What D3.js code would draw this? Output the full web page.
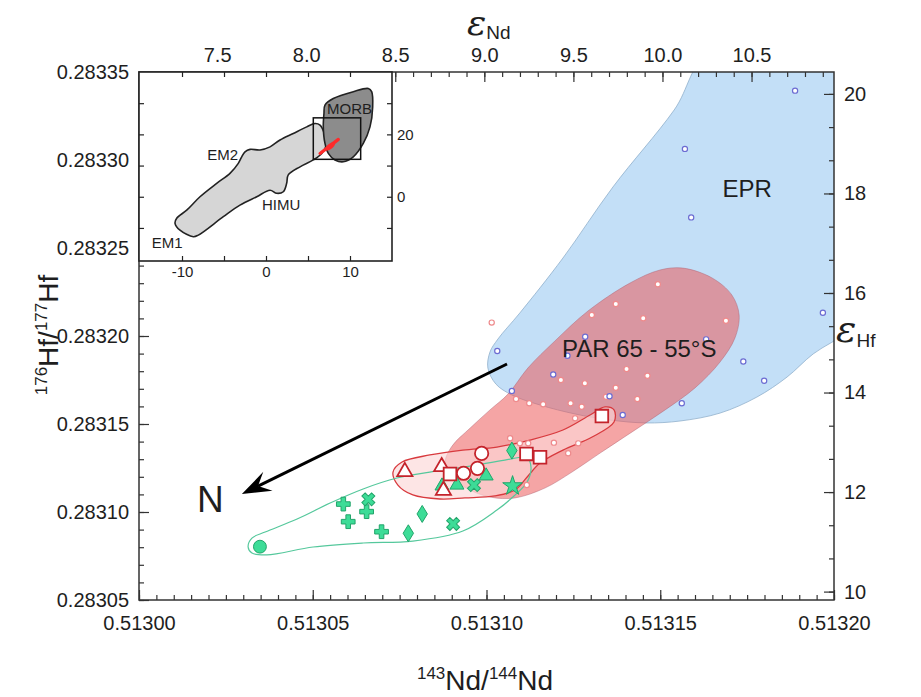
<!DOCTYPE html>
<html><head><meta charset="utf-8">
<script src="https://cdn.jsdelivr.net/npm/d3@7"></script>
<style>
body{margin:0;background:#fff}
svg{display:block}
text{font-family:"Liberation Sans",Arial,Helvetica,sans-serif;fill:#1e1e1e}
</style>
</head><body>
<svg id="c" width="921" height="697"></svg>
<script>
// ---------- data ----------
const xTicks = [0.51300, 0.51305, 0.51310, 0.51315, 0.51320];
const yTicks = [0.28305, 0.28310, 0.28315, 0.28320, 0.28325, 0.28330, 0.28335];
const eNdTicks = [7.5, 8.0, 8.5, 9.0, 9.5, 10.0, 10.5];
const eHfTicks = [10, 12, 14, 16, 18, 20];
const insetXTicks = [-10, 0, 10];
const insetYTicks = [0, 20];

// fields [143Nd/144Nd, 176Hf/177Hf]
const eprRegion = [[0.5131649,0.2833625],[0.5132104,0.2833653],[0.5132118,0.2832205],[0.5132046,0.2832034],[0.5131940,0.2831898],[0.5131865,0.2831767],[0.5131778,0.2831653],[0.5131672,0.2831562],[0.5131557,0.2831517],[0.5131459,0.2831506],[0.5131355,0.2831523],[0.5131255,0.2831557],[0.5131154,0.2831608],[0.5131073,0.2831665],[0.5131027,0.2831727],[0.5131004,0.2831818],[0.5131010,0.2831909],[0.5131033,0.2831983],[0.5131096,0.2832131],[0.5131220,0.2832443],[0.5131364,0.2832847],[0.5131540,0.2833284]];
const parRegion = [[0.5131565,0.2832386],[0.5131649,0.2832330],[0.5131706,0.2832233],[0.5131727,0.2832119],[0.5131715,0.2831989],[0.5131672,0.2831852],[0.5131600,0.2831705],[0.5131514,0.2831580],[0.5131419,0.2831455],[0.5131327,0.2831335],[0.5131246,0.2831227],[0.5131168,0.2831136],[0.5131082,0.2831080],[0.5131010,0.2831085],[0.5130941,0.2831136],[0.5130895,0.2831210],[0.5130881,0.2831284],[0.5130901,0.2831375],[0.5130953,0.2831477],[0.5131010,0.2831580],[0.5131062,0.2831670],[0.5131119,0.2831818],[0.5131197,0.2831972],[0.5131292,0.2832142],[0.5131413,0.2832301],[0.5131499,0.2832375]];
const redField = [[0.5130731,0.2831227],[0.5130757,0.2831284],[0.5130837,0.2831324],[0.5130932,0.2831352],[0.5131030,0.2831369],[0.5131125,0.2831409],[0.5131220,0.2831466],[0.5131298,0.2831551],[0.5131341,0.2831597],[0.5131367,0.2831580],[0.5131367,0.2831511],[0.5131304,0.2831426],[0.5131220,0.2831352],[0.5131154,0.2831278],[0.5131117,0.2831199],[0.5131082,0.2831125],[0.5131024,0.2831091],[0.5130938,0.2831080],[0.5130866,0.2831074],[0.5130788,0.2831097],[0.5130745,0.2831153]];
const greenField = [[0.5130314,0.2830801],[0.5130325,0.2830852],[0.5130363,0.2830886],[0.5130455,0.2830960],[0.5130550,0.2831051],[0.5130645,0.2831131],[0.5130742,0.2831193],[0.5130837,0.2831227],[0.5130953,0.2831261],[0.5131053,0.2831295],[0.5131117,0.2831307],[0.5131128,0.2831256],[0.5131117,0.2831170],[0.5131079,0.2831091],[0.5131030,0.2831011],[0.5130932,0.2830892],[0.5130788,0.2830835],[0.5130645,0.2830824],[0.5130501,0.2830801],[0.5130368,0.2830756],[0.5130325,0.2830767]];

// small symbols
const eprSamples = [[0.5131888,0.2833394],[0.5131571,0.2833063],[0.5131589,0.2832674],[0.5131968,0.2832132],[0.5131031,0.2831915],[0.5131284,0.2831996],[0.5131233,0.2831888],[0.5131192,0.2831781],[0.5131073,0.2831688],[0.5131632,0.2831981],[0.5131739,0.2831855],[0.5131799,0.2831746],[0.5131562,0.2831618],[0.5131354,0.2831658],[0.5131392,0.2831551]];
const parSamples = [[0.5131015,0.2832076],[0.5131493,0.2832294],[0.5131372,0.2832182],[0.5131303,0.2832119],[0.5131451,0.2832101],[0.5131689,0.2832087],[0.5131403,0.2831812],[0.5131463,0.2831774],[0.5131214,0.2831750],[0.5131283,0.2831731],[0.5131372,0.2831706],[0.5131434,0.2831642],[0.5131085,0.2831642],[0.5131123,0.2831618],[0.5131163,0.2831612],[0.5131242,0.2831618],[0.5131274,0.2831598],[0.5131344,0.2831655],[0.5131255,0.2831532],[0.5131068,0.2831419],[0.5131096,0.2831390],[0.5131120,0.2831390],[0.5131194,0.2831394],[0.5131264,0.2831390],[0.5131235,0.2831334],[0.5131116,0.2831153]];

// open red symbols
const redTriangles = [[0.5130765,0.2831229],[0.5130871,0.2831257],[0.5130876,0.2831122]];
const redSquares = [[0.5130895,0.2831216],[0.5131115,0.2831330],[0.5131154,0.2831311],[0.5131332,0.2831545]];
const redCircles = [[0.5130934,0.2831220],[0.5130986,0.2831333],[0.5130974,0.2831248]];

// filled green symbols
const greenCircles = [[0.5130348,0.2830803]];
const greenPlus = [[0.5130588,0.2831045],[0.5130602,0.2830945],[0.5130655,0.2831002],[0.5130698,0.2830888]];
const greenX = [[0.5130660,0.2831072],[0.5130904,0.2830932],[0.5130964,0.2831153]];
const greenDiamonds = [[0.5130815,0.2830989],[0.5130775,0.2830879],[0.5131073,0.2831349]];
const greenTriangles = [[0.5130872,0.2831148],[0.5130915,0.2831153],[0.5130999,0.2831205]];
const greenStars = [[0.5131075,0.2831148]];

const trendArrow = [[0.5131059,0.2831841],[0.5130296,0.2831102]];

const fieldLabels = [
  {text:"EPR", pos:[0.5131750,0.2832790], anchor:"middle", size:24},
  {text:"PAR 65 - 55°S", pos:[0.5131217,0.2831881], anchor:"start", size:24},
  {text:"N", pos:[0.5130167,0.2831000], anchor:"start", size:37}
];

// inset [epsilon Nd, epsilon Hf]
const mantleArray = [[-10.83,-8.5],[-10.24,-10.7],[-8.65,-12.8],[-8.06,-12.3],[-5.08,-6.4],[-3.1,-2.7],[-1.1,0],[0.48,2.1],[1.27,1.1],[2.06,1.6],[2.46,4.3],[2.65,7.0],[4.05,9.6],[5.63,11.8],[6.63,13.9],[7.23,17.1],[7.02,19.8],[6.43,23.0],[5.83,23.5],[4.85,22.4],[3.25,20.3],[1.67,18.2],[0.48,16.0],[-0.71,15.0],[-1.9,15.2],[-2.5,14.4],[-2.89,12.8],[-3.3,10.7],[-4.29,7.5],[-5.87,4.3],[-7.86,0],[-9.44,-4.3],[-10.63,-6.9]];
const morbField = [[7.02,29.4],[8.01,31.5],[10.39,33.7],[12.18,34.7],[12.58,33.7],[12.7,28.8],[12.38,22.4],[11.58,17.1],[10.39,12.8],[9.2,11.2],[8.21,11.8],[7.42,13.9],[7.02,17.1],[6.82,22.4],[6.9,26.7]];
const insetBox = [[5.63,12.0],[11.27,25.3]];
const insetRed = [[6.43,13.9],[8.61,18.4]];
const insetLabels = [
  {text:"MORB", pos:[7.26,26.5]},
  {text:"EM2", pos:[-7.0,11.8]},
  {text:"HIMU", pos:[-0.48,-4.3]},
  {text:"EM1", pos:[-13.6,-16.4]}
];

// ---------- scales ----------
const svg = d3.select("#c");
const L = 139, R = 834, T = 72, B = 600;
const x = d3.scaleLinear().domain([0.51300, 0.51320]).range([L, R]);
const y = d3.scaleLinear().domain([0.28305, 0.28335]).range([B, T]);
const CHUR_ND = 0.512638, CHUR_HF = 0.282772;
const eNd = v => (v / CHUR_ND - 1) * 1e4;
const eHf = v => (v / CHUR_HF - 1) * 1e4;
const xe = d3.scaleLinear().domain(x.domain().map(eNd)).range(x.range());
const ye = d3.scaleLinear().domain(y.domain().map(eHf)).range(y.range());

const defs = svg.append("defs");
defs.append("clipPath").attr("id","plot").append("rect")
  .attr("x",L).attr("y",T).attr("width",R-L).attr("height",B-T);

const blob = d3.line().x(d=>x(d[0])).y(d=>y(d[1])).curve(d3.curveCatmullRomClosed.alpha(0.5));
const g = svg.append("g").attr("clip-path","url(#plot)");

g.append("path").attr("d", blob(eprRegion))
  .attr("fill","#c3dff7").attr("stroke","#90b0cc").attr("stroke-width",0.8);
g.append("path").attr("d", blob(parRegion))
  .attr("fill","rgb(236,88,88)").attr("fill-opacity",0.54)
  .attr("stroke","#a85a6a").attr("stroke-opacity",0.6).attr("stroke-width",0.7);
g.append("path").attr("d", blob(redField))
  .attr("fill","rgb(252,215,215)").attr("fill-opacity",0.65)
  .attr("stroke","#d83a3e").attr("stroke-width",1.3);
g.append("path").attr("d", blob(greenField))
  .attr("fill","none").attr("stroke","#55c89c").attr("stroke-width",1.2);

// small sample circles
g.selectAll(".ps").data(parSamples).join("circle")
  .attr("cx",d=>x(d[0])).attr("cy",d=>y(d[1])).attr("r",2.6)
  .attr("fill","#fff").attr("stroke","#ee8a8c").attr("stroke-width",1.2);
g.selectAll(".es").data(eprSamples).join("circle")
  .attr("cx",d=>x(d[0])).attr("cy",d=>y(d[1])).attr("r",2.6)
  .attr("fill","#fff").attr("stroke","#6c6cd2").attr("stroke-width",1.2);

// arrow
{
  const p0 = [x(trendArrow[0][0]), y(trendArrow[0][1])];
  const p1 = [x(trendArrow[1][0]), y(trendArrow[1][1])];
  const dx = p0[0]-p1[0], dy = p0[1]-p1[1], len = Math.hypot(dx,dy);
  const ux = dx/len, uy = dy/len, nx = -uy, ny = ux;
  const pt = (a,b) => [p1[0]+ux*a+nx*b, p1[1]+uy*a+ny*b];
  const n = pt(18,0);
  g.append("line").attr("x1",p0[0]).attr("y1",p0[1]).attr("x2",n[0]).attr("y2",n[1])
    .attr("stroke","#000").attr("stroke-width",3);
  g.append("path").attr("d", d3.line()([p1, pt(29,-10.5), n, pt(29,10.5)]) + "Z").attr("fill","#000");
}

// markers
const sym = (type,size) => d3.symbol().type(type).size(size)();
const greenFill = "#3ddc97", greenStroke = "#22a46a";
function drawSym(data, path, fill, stroke, sw, rot) {
  g.append("g").selectAll("path").data(data).join("path")
    .attr("d", path)
    .attr("transform", d => `translate(${x(d[0])},${y(d[1])})` + (rot ? ` rotate(${rot})` : ""))
    .attr("fill", fill).attr("stroke", stroke).attr("stroke-width", sw);
}
const diamondPath = "M0,-8.5L5.2,0L0,8.5L-5.2,0Z";
drawSym(greenCircles, sym(d3.symbolCircle,130), greenFill, greenStroke, 1);
drawSym(greenPlus, sym(d3.symbolCross,105), greenFill, greenStroke, 1);
drawSym(greenX, sym(d3.symbolCross,105), greenFill, greenStroke, 1, 45);
drawSym(greenDiamonds, diamondPath, greenFill, greenStroke, 1);
drawSym(greenTriangles, sym(d3.symbolTriangle,85), greenFill, greenStroke, 1);
drawSym(greenStars, sym(d3.symbolStar,120), greenFill, greenStroke, 1);
drawSym(redTriangles, sym(d3.symbolTriangle,100), "#fff", "#c4232b", 1.8);
drawSym(redSquares, sym(d3.symbolSquare,160), "#fff", "#c4232b", 1.8);
drawSym(redCircles, sym(d3.symbolCircle,140), "#fff", "#c4232b", 1.8);

// field labels
g.selectAll(".fl").data(fieldLabels).join("text")
  .attr("x",d=>x(d.pos[0])).attr("y",d=>y(d.pos[1]))
  .attr("text-anchor",d=>d.anchor).attr("font-size",d=>d.size)
  .text(d=>d.text);

// ---------- axes ----------
function axisG(gen, vals, size, fmt, tr, pad, fs) {
  const a = svg.append("g").attr("transform", tr)
    .call(gen.tickValues(vals).tickSize(size).tickPadding(pad).tickFormat(fmt));
  a.select(".domain").remove();
  a.selectAll("line").attr("stroke","#333").attr("stroke-width",1.2);
  a.selectAll("text").attr("font-size", fs).attr("fill","#1e1e1e")
    .attr("font-family","Liberation Sans, Arial, sans-serif");
  return a;
}
const xMinor = d3.range(0,41).map(i => 0.51300 + i*0.000005);
const yMinor = d3.range(0,31).map(i => 0.28305 + i*0.00001);
const eNdMinor = d3.range(71,110).map(i => i/10);
const eHfMinor = d3.range(0,16).map(i => 10 + i*2/3);

axisG(d3.axisBottom(x), xMinor, -5, "", `translate(0,${B})`, 0, 0);
axisG(d3.axisBottom(x), xTicks, -10, d3.format(".5f"), `translate(0,${B})`, 16, 20);
axisG(d3.axisLeft(y), yMinor, -5, "", `translate(${L},0)`, 0, 0);
axisG(d3.axisLeft(y), yTicks, -10, d3.format(".5f"), `translate(${L},0)`, 10, 20);
axisG(d3.axisTop(xe), eNdMinor, -5, "", `translate(0,${T})`, 0, 0);
axisG(d3.axisTop(xe), eNdTicks, -10, d3.format(".1f"), `translate(0,${T})`, 10, 20);
axisG(d3.axisRight(ye), eHfMinor, -5, "", `translate(${R},0)`, 0, 0);
axisG(d3.axisRight(ye), eHfTicks, -10, d3.format("d"), `translate(${R},0)`, 10, 20);

svg.append("rect").attr("x",L).attr("y",T).attr("width",R-L).attr("height",B-T)
  .attr("fill","none").attr("stroke","#333").attr("stroke-width",1.5);

// ---------- inset ----------
const IL = 139, IR = 392, IT = 72, IB = 261;
const ix = d3.scaleLinear().domain([-15.12, 15]).range([IL, IR]);
const iy = d3.scaleLinear().domain([-20.6, 40]).range([IB, IT]);
defs.append("clipPath").attr("id","inset").append("rect")
  .attr("x",IL).attr("y",IT).attr("width",IR-IL).attr("height",IB-IT);
const ig = svg.append("g");
ig.append("rect").attr("x",IL).attr("y",IT).attr("width",IR-IL).attr("height",IB-IT).attr("fill","#fff");
const ic = ig.append("g").attr("clip-path","url(#inset)");
const iblob = d3.line().x(d=>ix(d[0])).y(d=>iy(d[1])).curve(d3.curveCatmullRomClosed.alpha(0.5));
ic.append("path").attr("d", iblob(mantleArray)).attr("fill","#d6d6d6").attr("stroke","#222").attr("stroke-width",1.6);
ic.append("path").attr("d", iblob(morbField)).attr("fill","#8c8c8c").attr("stroke","#222").attr("stroke-width",1.6);
ic.append("rect").attr("x",ix(insetBox[0][0])).attr("y",iy(insetBox[1][1]))
  .attr("width",ix(insetBox[1][0])-ix(insetBox[0][0])).attr("height",iy(insetBox[0][1])-iy(insetBox[1][1]))
  .attr("fill","none").attr("stroke","#111").attr("stroke-width",1.5);
ic.append("line").attr("x1",ix(insetRed[0][0])).attr("y1",iy(insetRed[0][1]))
  .attr("x2",ix(insetRed[1][0])).attr("y2",iy(insetRed[1][1]))
  .attr("stroke","#ff2a2a").attr("stroke-width",3.2).attr("stroke-linecap","round");
{
  const cx = (ix(insetRed[0][0])+ix(insetRed[1][0]))/2+1, cy = (iy(insetRed[0][1])+iy(insetRed[1][1]))/2;
  ic.append("ellipse").attr("cx",cx).attr("cy",cy).attr("rx",6).attr("ry",2.6)
    .attr("transform",`rotate(-38,${cx},${cy})`).attr("fill","#ff2a2a");
}
ic.selectAll(".il").data(insetLabels).join("text")
  .attr("x",d=>ix(d.pos[0])).attr("y",d=>iy(d.pos[1])).attr("font-size",15).text(d=>d.text);

function iaxis(gen, vals, fmt, tr, pad) {
  const a = ig.append("g").attr("transform",tr)
    .call(gen.tickValues(vals).tickSize(-5).tickPadding(pad).tickFormat(fmt));
  a.select(".domain").remove();
  a.selectAll("line").attr("stroke","#222").attr("stroke-width",1.2);
  a.selectAll("text").attr("font-size",15).attr("fill","#1e1e1e")
    .attr("font-family","Liberation Sans, Arial, sans-serif");
}
const ixAll = d3.range(-10, 11, 5), iyAll = d3.range(-10, 31, 10);
iaxis(d3.axisBottom(ix), ixAll, d => insetXTicks.includes(d) ? String(d) : "", `translate(0,${IB})`, 5);
iaxis(d3.axisTop(ix), ixAll, "", `translate(0,${IT})`, 0);
iaxis(d3.axisLeft(iy), iyAll, "", `translate(${IL},0)`, 0);
iaxis(d3.axisRight(iy), iyAll, d => insetYTicks.includes(d) ? String(d) : "", `translate(${IR},0)`, 5);
ig.append("rect").attr("x",IL).attr("y",IT).attr("width",IR-IL).attr("height",IB-IT)
  .attr("fill","none").attr("stroke","#222").attr("stroke-width",1.6);

// ---------- titles ----------
const bt = svg.append("text").attr("x",485).attr("y",690).attr("text-anchor","middle").attr("font-size",28);
bt.append("tspan").attr("font-size",17).attr("dy",-11).text("143");
bt.append("tspan").attr("dy",11).text("Nd/");
bt.append("tspan").attr("font-size",17).attr("dy",-11).text("144");
bt.append("tspan").attr("dy",11).text("Nd");

const lt = svg.append("text").attr("transform","translate(58,335) rotate(-90)").attr("text-anchor","middle").attr("font-size",28);
lt.append("tspan").attr("font-size",17).attr("dy",-11).text("176");
lt.append("tspan").attr("dy",11).text("Hf/");
lt.append("tspan").attr("font-size",17).attr("dy",-11).text("177");
lt.append("tspan").attr("dy",11).text("Hf");

const tt = svg.append("text").attr("x",467).attr("y",35);
tt.append("tspan").attr("font-size",36).attr("font-style","italic").attr("font-family","DejaVu Serif, serif").text("ε");
tt.append("tspan").attr("font-size",19).attr("dy",4).text("Nd");

const rt = svg.append("text").attr("x",836).attr("y",342);
rt.append("tspan").attr("font-size",38).attr("font-style","italic").attr("font-family","DejaVu Serif, serif").text("ε");
rt.append("tspan").attr("font-size",19).attr("dy",5).text("Hf");
</script>
</body></html>
